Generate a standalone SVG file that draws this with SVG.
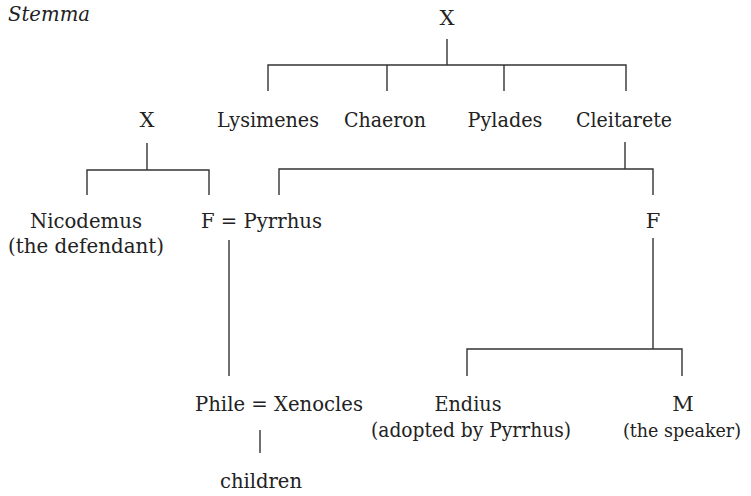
<svg xmlns="http://www.w3.org/2000/svg" width="751" height="496" viewBox="0 0 751 496">
  <style>
    text { font-family: "DejaVu Serif", "Liberation Serif", serif; font-size: 21px; fill: #222; }
    .c { text-anchor: middle; }
    .title { font-style: italic; }
    .tight { font-size: 19px; }
    #connectors line, #connectors polyline { stroke: #333; stroke-width: 1.4; fill: none; }
  </style>
  <rect width="751" height="496" fill="#fff"/>
  <text class="title" x="8" y="21" textLength="82" lengthAdjust="spacingAndGlyphs">Stemma</text>

  <g id="connectors">
    <!-- top X to its four children -->
    <line x1="447" y1="39" x2="447" y2="65"/>
    <polyline points="268,91 268,65 626,65 626,91"/>
    <line x1="387" y1="65" x2="387" y2="91"/>
    <line x1="504" y1="65" x2="504" y2="91"/>
    <!-- left X to Nicodemus and F -->
    <line x1="147" y1="143" x2="147" y2="170"/>
    <polyline points="87,195 87,170 209,170 209,195"/>
    <!-- Cleitarete to F = Pyrrhus and F -->
    <line x1="625" y1="142" x2="625" y2="169"/>
    <polyline points="279,195 279,169 653,169 653,195"/>
    <!-- F = Pyrrhus to Phile -->
    <line x1="229" y1="240" x2="229" y2="376"/>
    <!-- F to Endius and M -->
    <line x1="653" y1="238" x2="653" y2="349"/>
    <polyline points="467,376 467,349 682,349 682,376"/>
    <!-- Phile = Xenocles to children -->
    <line x1="260" y1="430" x2="260" y2="453"/>
  </g>

  <g id="n-x-top"><text class="c" x="447" y="25">X</text></g>
  <g id="n-x-left"><text class="c" x="147" y="127">X</text></g>
  <g id="n-lysimenes"><text class="c" x="268" y="127" textLength="102" lengthAdjust="spacingAndGlyphs">Lysimenes</text></g>
  <g id="n-chaeron"><text class="c" x="385" y="127" textLength="82" lengthAdjust="spacingAndGlyphs">Chaeron</text></g>
  <g id="n-pylades"><text class="c" x="505" y="127" textLength="75" lengthAdjust="spacingAndGlyphs">Pylades</text></g>
  <g id="n-cleitarete"><text class="c" x="624" y="127" textLength="96" lengthAdjust="spacingAndGlyphs">Cleitarete</text></g>
  <g id="n-nicodemus">
    <text class="c" x="86" y="228" textLength="112" lengthAdjust="spacingAndGlyphs">Nicodemus</text>
    <text class="c" x="86" y="253" textLength="156" lengthAdjust="spacingAndGlyphs">(the defendant)</text>
  </g>
  <g id="n-pyrrhus"><text x="201" y="228" textLength="121" lengthAdjust="spacingAndGlyphs">F = Pyrrhus</text></g>
  <g id="n-f"><text class="c" x="653" y="228">F</text></g>
  <g id="n-phile"><text x="195" y="411" textLength="168" lengthAdjust="spacingAndGlyphs">Phile = Xenocles</text></g>
  <g id="n-endius">
    <text class="c" x="468" y="411" textLength="67" lengthAdjust="spacingAndGlyphs">Endius</text>
    <text class="c" x="471" y="437" textLength="200" lengthAdjust="spacingAndGlyphs">(adopted by Pyrrhus)</text>
  </g>
  <g id="n-m">
    <text class="c" x="683" y="411">M</text>
    <text class="c tight" x="682" y="437" textLength="118" lengthAdjust="spacingAndGlyphs">(the speaker)</text>
  </g>
  <g id="n-children"><text class="c" x="261" y="488" textLength="82" lengthAdjust="spacingAndGlyphs">children</text></g>
</svg>
